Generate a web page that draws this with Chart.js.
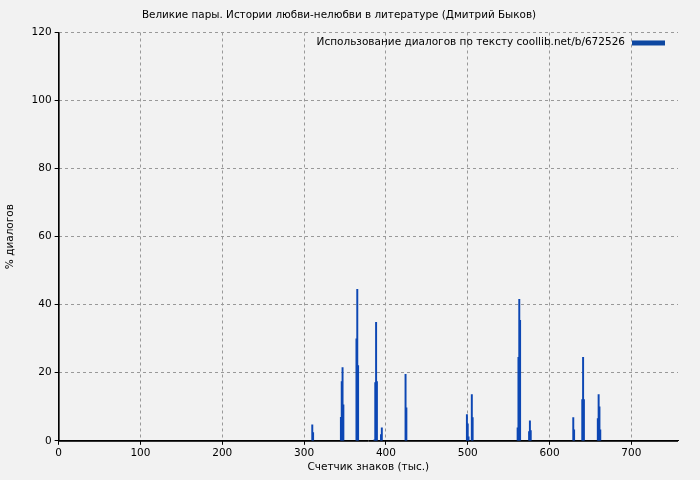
<!DOCTYPE html>
<html><head><meta charset="utf-8">
<script src="https://cdn.jsdelivr.net/npm/chart.js@4"></script>
<style>html,body{margin:0;background:#f2f2f2}#wrap{width:700px;height:480px}</style>
</head><body><div id="wrap"><canvas id="c"></canvas></div>
<script>
// Data: position (тыс. знаков) and % dialogues
const positions = [310,311, 345,346,347,348, 364,365,366, 386,387,388,389,394,395, 424,425,
  499,500,501,505,506, 561,562,563,564, 575,576,577, 629,630, 640,641,642, 659,660,661,662];
const percents  = [4.7,2.4, 6.9,17.4,21.5,10.6, 30,44.5,22.1, 0.3,17.1,34.8,17.4,1.8,3.8, 19.5,9.7,
  7.7,5,1.2,13.6,6.8, 3.8,24.5,41.6,35.4, 2.7,5.9,3.0, 6.8,3.2, 12.1,24.5,12.1, 6.5,13.6,10,3.2];
const xTicks = [0,100,200,300,400,500,600,700];
const legendLabel = 'Использование диалогов по тексту coollib.net/b/672526';
const FONT = 'DejaVu Sans';

const legendPlugin = {
  id: 'legendBox',
  afterDraw(chart) {
    const {ctx, chartArea: a} = chart;
    ctx.save();
    // solid frame
    ctx.strokeStyle = '#000'; ctx.lineWidth = 1; ctx.setLineDash([]);
    ctx.beginPath();
    ctx.moveTo(a.left + 0.5, a.top); ctx.lineTo(a.left + 0.5, a.bottom + 0.5); ctx.lineTo(a.right, a.bottom + 0.5);
    ctx.stroke();
    ctx.font = '10.5px ' + FONT;
    ctx.fillStyle = '#000';
    ctx.textAlign = 'right';
    ctx.textBaseline = 'middle';
    ctx.fillText(legendLabel, a.right - 53, a.top + 10);
    ctx.fillStyle = '#0d47a1';
    ctx.fillRect(a.right - 46, a.top + 8, 33, 5);
    ctx.restore();
  }
};

new Chart(document.getElementById('c'), {
  type: 'bar',
  data: { datasets: [{
    data: positions.map((p, i) => ({x: p, y: percents[i]})),
    backgroundColor: '#0d47b4', barThickness: 1.3, grouped: false
  }]},
  options: {
    responsive: true, maintainAspectRatio: false, animation: false,
    layout: { padding: {left: 0, right: 22, top: 0, bottom: 2} },
    plugins: {
      legend: {display: false}, tooltip: {enabled: false},
      title: {display: true, text: 'Великие пары. Истории любви-нелюбви в литературе (Дмитрий Быков)',
        color: '#000', font: {family: FONT, size: 10.4, weight: 'normal'}, padding: {top: 9, bottom: 11}}
    },
    scales: {
      x: { type: 'linear', min: 0, max: 757, offset: false,
        afterBuildTicks: s => { s.ticks = xTicks.map(v => ({value: v})); },
        border: {color: '#000', width: 1, dash: [3, 3]},
        grid: {color: '#999', tickColor: '#000', tickLength: 4, offset: false},
        ticks: {color: '#000', font: {family: FONT, size: 10.5}, padding: 2},
        title: {display: true, text: 'Счетчик знаков (тыс.)', color: '#000', font: {family: FONT, size: 10.5}, padding: {top: 0}}
      },
      y: { min: 0, max: 120,
        border: {color: '#000', width: 1, dash: [3, 3]},
        grid: {color: '#999', tickColor: '#000', tickLength: 4},
        ticks: {stepSize: 20, color: '#000', font: {family: FONT, size: 10.5}, padding: 3},
        title: {display: true, text: '% диалогов', color: '#000', font: {family: FONT, size: 10.5}, padding: {bottom: 12}}
      }
    }
  },
  plugins: [legendPlugin, {
    id: 'bg',
    beforeDraw(chart) {
      const ctx = chart.ctx;
      ctx.save(); ctx.fillStyle = '#f2f2f2'; ctx.fillRect(0, 0, chart.width, chart.height); ctx.restore();
    }
  }]
});
</script></body></html>
